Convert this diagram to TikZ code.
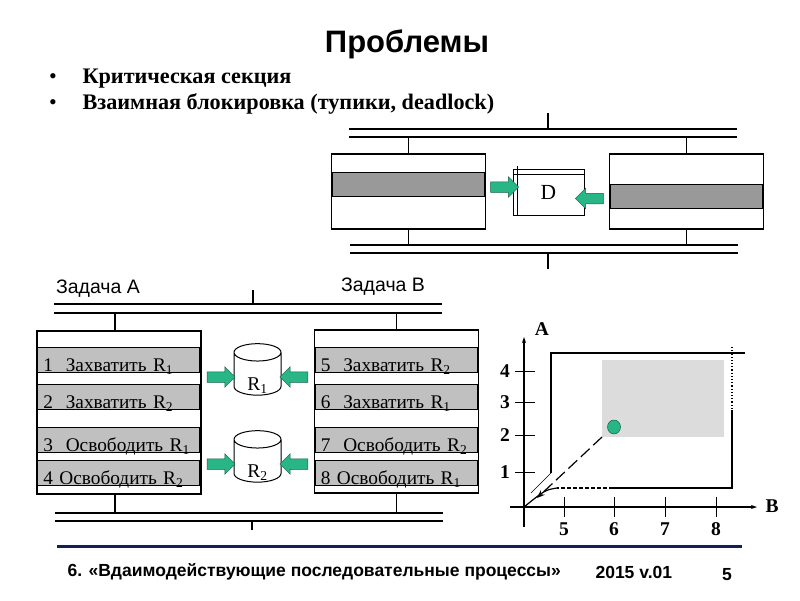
\documentclass[tikz,border=0pt]{standalone}
\usepackage{fontspec}
\setmainfont{Liberation Serif}
\newfontfamily\arialfont{Liberation Sans}
\usetikzlibrary{shapes.geometric, shapes.arrows, arrows.meta, positioning, calc}
\definecolor{cGreen}{RGB}{40,182,134}
\definecolor{cGreenDark}{RGB}{18,96,70}
\definecolor{cBand}{RGB}{153,153,153}
\definecolor{cRow}{RGB}{192,192,192}
\definecolor{cZone}{RGB}{220,220,220}
\definecolor{cNavy}{RGB}{22,30,86}
\tikzset{
    bus/.style     ={line width=1.6pt},
    procbox/.style ={rectangle, draw=black, line width=1.6pt, minimum width=154pt, minimum height=75pt, inner sep=0pt},
    band/.style    ={rectangle, draw=black, line width=0.6pt, fill=cBand, minimum width=152.4pt, minimum height=24pt, inner sep=0pt, anchor=north west},
    taskbox/.style ={rectangle, draw=black, line width=1.6pt, minimum width=164pt, minimum height=163pt, inner sep=0pt},
    stepline/.style={rectangle, draw=black, line width=0.6pt, fill=cRow, minimum width=162.4pt, minimum height=25pt, inner xsep=6pt, inner ysep=0pt, text width=150.4pt, text height=23.5pt, text depth=1.5pt, align=left, anchor=north west, font=\fontsize{19.3}{22}\selectfont},
    store/.style   ={cylinder, shape border rotate=90, draw=black, line width=1pt, fill=white, minimum width=47pt, minimum height=51.5pt, shape aspect=0.95, inner sep=0pt, font=\fontsize{17.5}{20}\selectfont},
    storelabel/.style={font=\fontsize{19.5}{22}\selectfont},
    pusharrow/.style={single arrow, draw=cGreenDark, line width=0.5pt, fill=cGreen, minimum height=28pt, minimum width=20pt, inner sep=5pt, single arrow head extend=5pt, single arrow head indent=0pt},
    axis/.style    ={line width=1.2pt, -{Stealth[length=6pt, width=4pt]}},
    axlabel/.style ={font=\fontsize{19.5}{22}\selectfont\bfseries},
    footer/.style  ={font=\arialfont\fontsize{17.5}{20}\selectfont\bfseries},
}

\begin{document}
\begin{tikzpicture}[x=1pt, y=-1pt]
    \useasboundingbox (0,0) rectangle (800,600);
    % heading
    \node[font=\arialfont\fontsize{31}{36}\selectfont\bfseries] (title) at (407,44) {Проблемы};
    \node[anchor=base, font=\fontsize{22}{26}\selectfont] (dot1) at (53,83) {•};
    \node[anchor=base west, font=\fontsize{22.2}{26}\selectfont\bfseries] (item1) at (79,83) {Критическая секция};
    \node[anchor=base, font=\fontsize{22}{26}\selectfont] (dot2) at (53,109) {•};
    \node[anchor=base west, font=\fontsize{22.2}{26}\selectfont\bfseries] (item2) at (79,109) {Взаимная блокировка (тупики, deadlock)};

    % upper scheme
    \coordinate (topin) at (548,113);
    \coordinate (topAw) at (349,129); \coordinate (topAe) at (737,129);
    \coordinate (topBw) at (349,137); \coordinate (topBe) at (737,137);
    \coordinate (botAw) at (350,245); \coordinate (botAe) at (738,245);
    \coordinate (botBw) at (350,253); \coordinate (botBe) at (738,253);
    \coordinate (botout) at (548,269);
    \draw[bus] (topAw) -- (topAe);
    \draw[bus] (topBw) -- (topBe);
    \draw[bus] (botAw) -- (botAe);
    \draw[bus] (botBw) -- (botBe);
    \draw[bus] (topin) -- (topin |- topAw);
    \draw[bus] (botout |- botBw) -- (botout);

    \node[procbox] (procL) at (408.5,191.5) {};
    \node[band] (bandL) at ($(procL.north west)+(0.8,19)$) {};
    \node[procbox] (procR) at (686.5,191.5) {};
    \node[band] (bandR) at ($(procR.north west)+(0.8,31)$) {};
    \draw[bus] (procL.north) -- (procL.north |- topBw);
    \draw[bus] (procL.south) -- (procL.south |- botAw);
    \draw[bus] (procR.north) -- (procR.north |- topBw);
    \draw[bus] (procR.south) -- (procR.south |- botAw);

    \node[rectangle, draw=black, line width=1pt, minimum width=71pt, minimum height=46pt, font=\fontsize{21.5}{24}\selectfont] (dev) at (548.5,192) {D};
    \draw[line width=0.5pt] ($(dev.north west)+(0,6)$) -- ($(dev.north east)+(0,6)$);
    \draw[line width=0.5pt] ($(dev.north west)+(5,-3)$) -- ($(dev.south west)+(5,0)$);
    \node[pusharrow] (pushL) at (502,187) {};
    \node[pusharrow, shape border rotate=180] (pushR) at (592,198.5) {};

    % lower scheme
    \node[font=\arialfont\fontsize{19.5}{22}\selectfont] (nameA) at (98,289) {Задача А};
    \node[font=\arialfont\fontsize{19.5}{22}\selectfont] (nameB) at (383,287) {Задача В};
    \coordinate (tin) at (253,290);
    \coordinate (tAw) at (54,304); \coordinate (tAe) at (442,304);
    \coordinate (tBw) at (54,313); \coordinate (tBe) at (442,313);
    \coordinate (bAw) at (55,513); \coordinate (bAe) at (443,513);
    \coordinate (bBw) at (55,521); \coordinate (bBe) at (443,521);
    \coordinate (tout) at (252,530);
    \draw[bus] (tAw) -- (tAe);
    \draw[bus] (tBw) -- (tBe);
    \draw[bus] (bAw) -- (bAe);
    \draw[bus] (bBw) -- (bBe);
    \draw[bus] (tin) -- (tin |- tAw);
    \draw[bus] (tout |- bBw) -- (tout);

    \node[taskbox] (taskA) at (119,412.5) {};
    \node[stepline] (a1) at ($(taskA.north west)+(0.8,17)$) {1\ \ Захватить R\textsubscript{1}};
    \node[stepline] (a2) at ($(taskA.north west)+(0.8,54)$) {2\ \ Захватить R\textsubscript{2}};
    \node[stepline] (a3) at ($(taskA.north west)+(0.8,97)$) {3\ \ Освободить R\textsubscript{1}};
    \node[stepline] (a4) at ($(taskA.north west)+(0.8,130)$) {4 Освободить R\textsubscript{2}};
    \node[taskbox] (taskB) at (396.5,411.5) {};
    \node[stepline] (b1) at ($(taskB.north west)+(0.8,18)$) {5\ \ Захватить R\textsubscript{2}};
    \node[stepline] (b2) at ($(taskB.north west)+(0.8,55)$) {6\ \ Захватить R\textsubscript{1}};
    \node[stepline] (b3) at ($(taskB.north west)+(0.8,98)$) {7\ \ Освободить R\textsubscript{2}};
    \node[stepline] (b4) at ($(taskB.north west)+(0.8,131)$) {8 Освободить R\textsubscript{1}};
    \draw[bus] ($(taskA.north)+(-4,0)$) -- ($(taskA.north |- tBw)+(-4,0)$);
    \draw[bus] ($(taskA.south)+(-4,0)$) -- ($(taskA.south |- bAw)+(-4,0)$);
    \draw[bus] (taskB.north) -- (taskB.north |- tBw);
    \draw[bus] (taskB.south) -- (taskB.south |- bAw);

    \node[store] (res1) at (257.5,374) {\phantom{R\textsubscript{1}}};
    \node[storelabel] (lab1) at ($(res1.center)+(0,12)$) {R\textsubscript{1}};
    \node[store] (res2) at (257.5,461) {\phantom{R\textsubscript{2}}};
    \node[storelabel] (lab2) at ($(res2.center)+(0,12)$) {R\textsubscript{2}};
    \node[pusharrow] (get1A) at (218.5,377) {};
    \node[pusharrow, shape border rotate=180] (get1B) at (296.5,377) {};
    \node[pusharrow] (get2A) at (218.5,464) {};
    \node[pusharrow, shape border rotate=180] (get2B) at (296.5,464) {};

    % progress diagram
    \fill[cZone] (602,360) rectangle (724,437);
    \coordinate (orig) at (524,507);
    \draw[axis] (524,527) -- (524,337);
    \draw[axis] (510,507) -- (757,507);
    \node[axlabel] (labA) at (542,329) {A};
    \node[axlabel] (labB) at (772,506) {B};
    \draw[line width=1pt] (515,371) -- (535,371);
    \draw[line width=1pt] (515,402) -- (535,402);
    \draw[line width=1pt] (515,435) -- (535,435);
    \draw[line width=1pt] (515,472) -- (535,472);
    \node[axlabel] (n4) at (505,371) {4};
    \node[axlabel] (n3) at (505,402) {3};
    \node[axlabel] (n2) at (505,435) {2};
    \node[axlabel] (n1) at (505,472) {1};
    \draw[line width=1pt] (564,497) -- (564,517);
    \draw[line width=1pt] (614,497) -- (614,517);
    \draw[line width=1pt] (665,497) -- (665,517);
    \draw[line width=1pt] (716,497) -- (716,517);
    \node[axlabel] (n5) at (564,529) {5};
    \node[axlabel] (n6) at (614,529) {6};
    \node[axlabel] (n7) at (665,529) {7};
    \node[axlabel] (n8) at (716,529) {8};
    \draw[line width=0.5pt] (531,493) -- (551,473);
    \draw[line width=1.2pt] (551,473) -- (551,353) -- (745,353);
    \draw[line width=1.2pt, dotted] (732,347) -- (732,410);
    \draw[line width=1.2pt] (732,410) -- (732,488) -- (723,488);
    \draw[line width=1.2pt, dashed] (723,488) -- (732,488);
    \draw[line width=1.2pt] (723,488) -- (613,488);
    \draw[line width=1.2pt, dash pattern=on 4pt off 2pt] (613,488) -- (557,488);
    \draw[line width=1.2pt] (557,488) .. controls (545,490) .. (orig);
    \draw[line width=1.2pt, dash pattern=on 12pt off 5pt, -{Stealth[length=8pt, width=6pt]}] (602,437) -- (537,498);
    \node[ellipse, draw=cGreenDark, fill=cGreen, line width=0.5pt, minimum width=13pt, minimum height=14pt, inner sep=0pt] (state) at (614,427) {};

    % footer
    \draw[line width=3pt, cNavy] (57,546) -- (742,546);
    \node[anchor=west, footer] (foot) at (64,572) {6. «Вдаимодействующие последовательные процессы»};
    \node[anchor=west, footer] (year) at (592,572) {2015 v.01};
    \node[footer] (page) at (727,575) {5};
\end{tikzpicture}
\end{document}
